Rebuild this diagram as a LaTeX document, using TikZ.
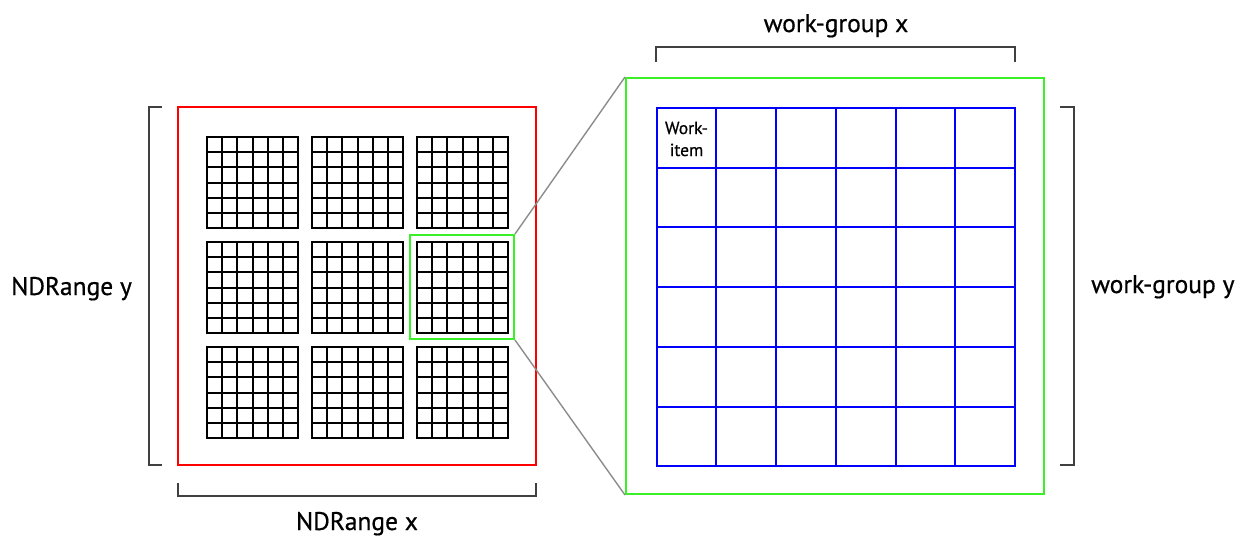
\documentclass[tikz,border=0pt]{standalone}
\usepackage{fontspec}
\setmainfont[FakeBold=0.6]{PT Sans}
\begin{document}
\begin{tikzpicture}[x=1pt,y=-1pt,
  bracketline/.style={draw=black!75,line width=2pt},
  cellline/.style={draw=black,line width=2pt},
  redbox/.style={draw=red,line width=1.8pt,fill=none},
  greenbox/.style={draw={rgb,255:red,60;green,240;blue,40},line width=2pt},
  blueline/.style={draw=blue,line width=2pt},
  zoomline/.style={draw=black!45,line width=1.4pt},
  label/.style={inner sep=0pt,font=\fontsize{25.5}{30}\selectfont},
  small/.style={inner sep=0pt,font=\fontsize{17.5}{22}\selectfont,align=center}
]
\useasboundingbox (0,0) rectangle (1248,536);

% NDRange outline
\node[redbox,minimum width=358pt,minimum height=358pt,inner sep=0pt] (ndrange) at (357,286) {};

% the nine small 6x6 work-groups
\foreach \gx in {207,312,417} {
  \foreach \gy in {137,242,347} {
    \foreach \i in {1,...,5} {
      \draw[cellline] (\gx+\i*91/6,\gy) -- (\gx+\i*91/6,\gy+91);
      \draw[cellline] (\gx,\gy+\i*91/6) -- (\gx+91,\gy+\i*91/6);
    }
    \node[cellline,minimum width=91pt,minimum height=91pt,inner sep=0pt] (wg-\gx-\gy) at (\gx+45.5,\gy+45.5) {};
  }
}

% highlighted work-group
\node[greenbox,minimum width=104pt,minimum height=104pt,inner sep=0pt] (sel) at (462,287) {};

% enlarged work-group
\node[greenbox,minimum width=418pt,minimum height=416pt,inner sep=0pt] (zoom) at (835,286) {};

% work-items
\foreach \i in {1,...,5} {
  \draw[blueline] (656.7+\i*59.72,108) -- (656.7+\i*59.72,466.3);
  \draw[blueline] (656.7,108+\i*59.72) -- (1015,108+\i*59.72);
}
\node[blueline,minimum width=358.3pt,minimum height=358.3pt,inner sep=0pt] (items) at (835.85,287.15) {};
\node[small] (witem) at (686.5,139) {Work-\\item};

% zoom lines
\draw[zoomline] (sel.north east) -- (zoom.north west);
\draw[zoomline] (sel.south east) -- (zoom.south west);

% brackets
\draw[bracketline] (162,107) -- (149,107) -- (149,465) -- (162,465);
\draw[bracketline] (178,483) -- (178,496) -- (536,496) -- (536,483);
\draw[bracketline] (656,62) -- (656,47) -- (1015,47) -- (1015,62);
\draw[bracketline] (1060,107) -- (1074,107) -- (1074,465) -- (1060,465);

% labels
\node[label,anchor=base west] (ndy) at (11,295) {NDRange y};
\node[label,anchor=base] (ndx) at (357,530) {NDRange x};
\node[label,anchor=base] (wgx) at (836,32) {work-group x};
\node[label,anchor=base west] (wgy) at (1091,293) {work-group y};
\end{tikzpicture}
\end{document}
